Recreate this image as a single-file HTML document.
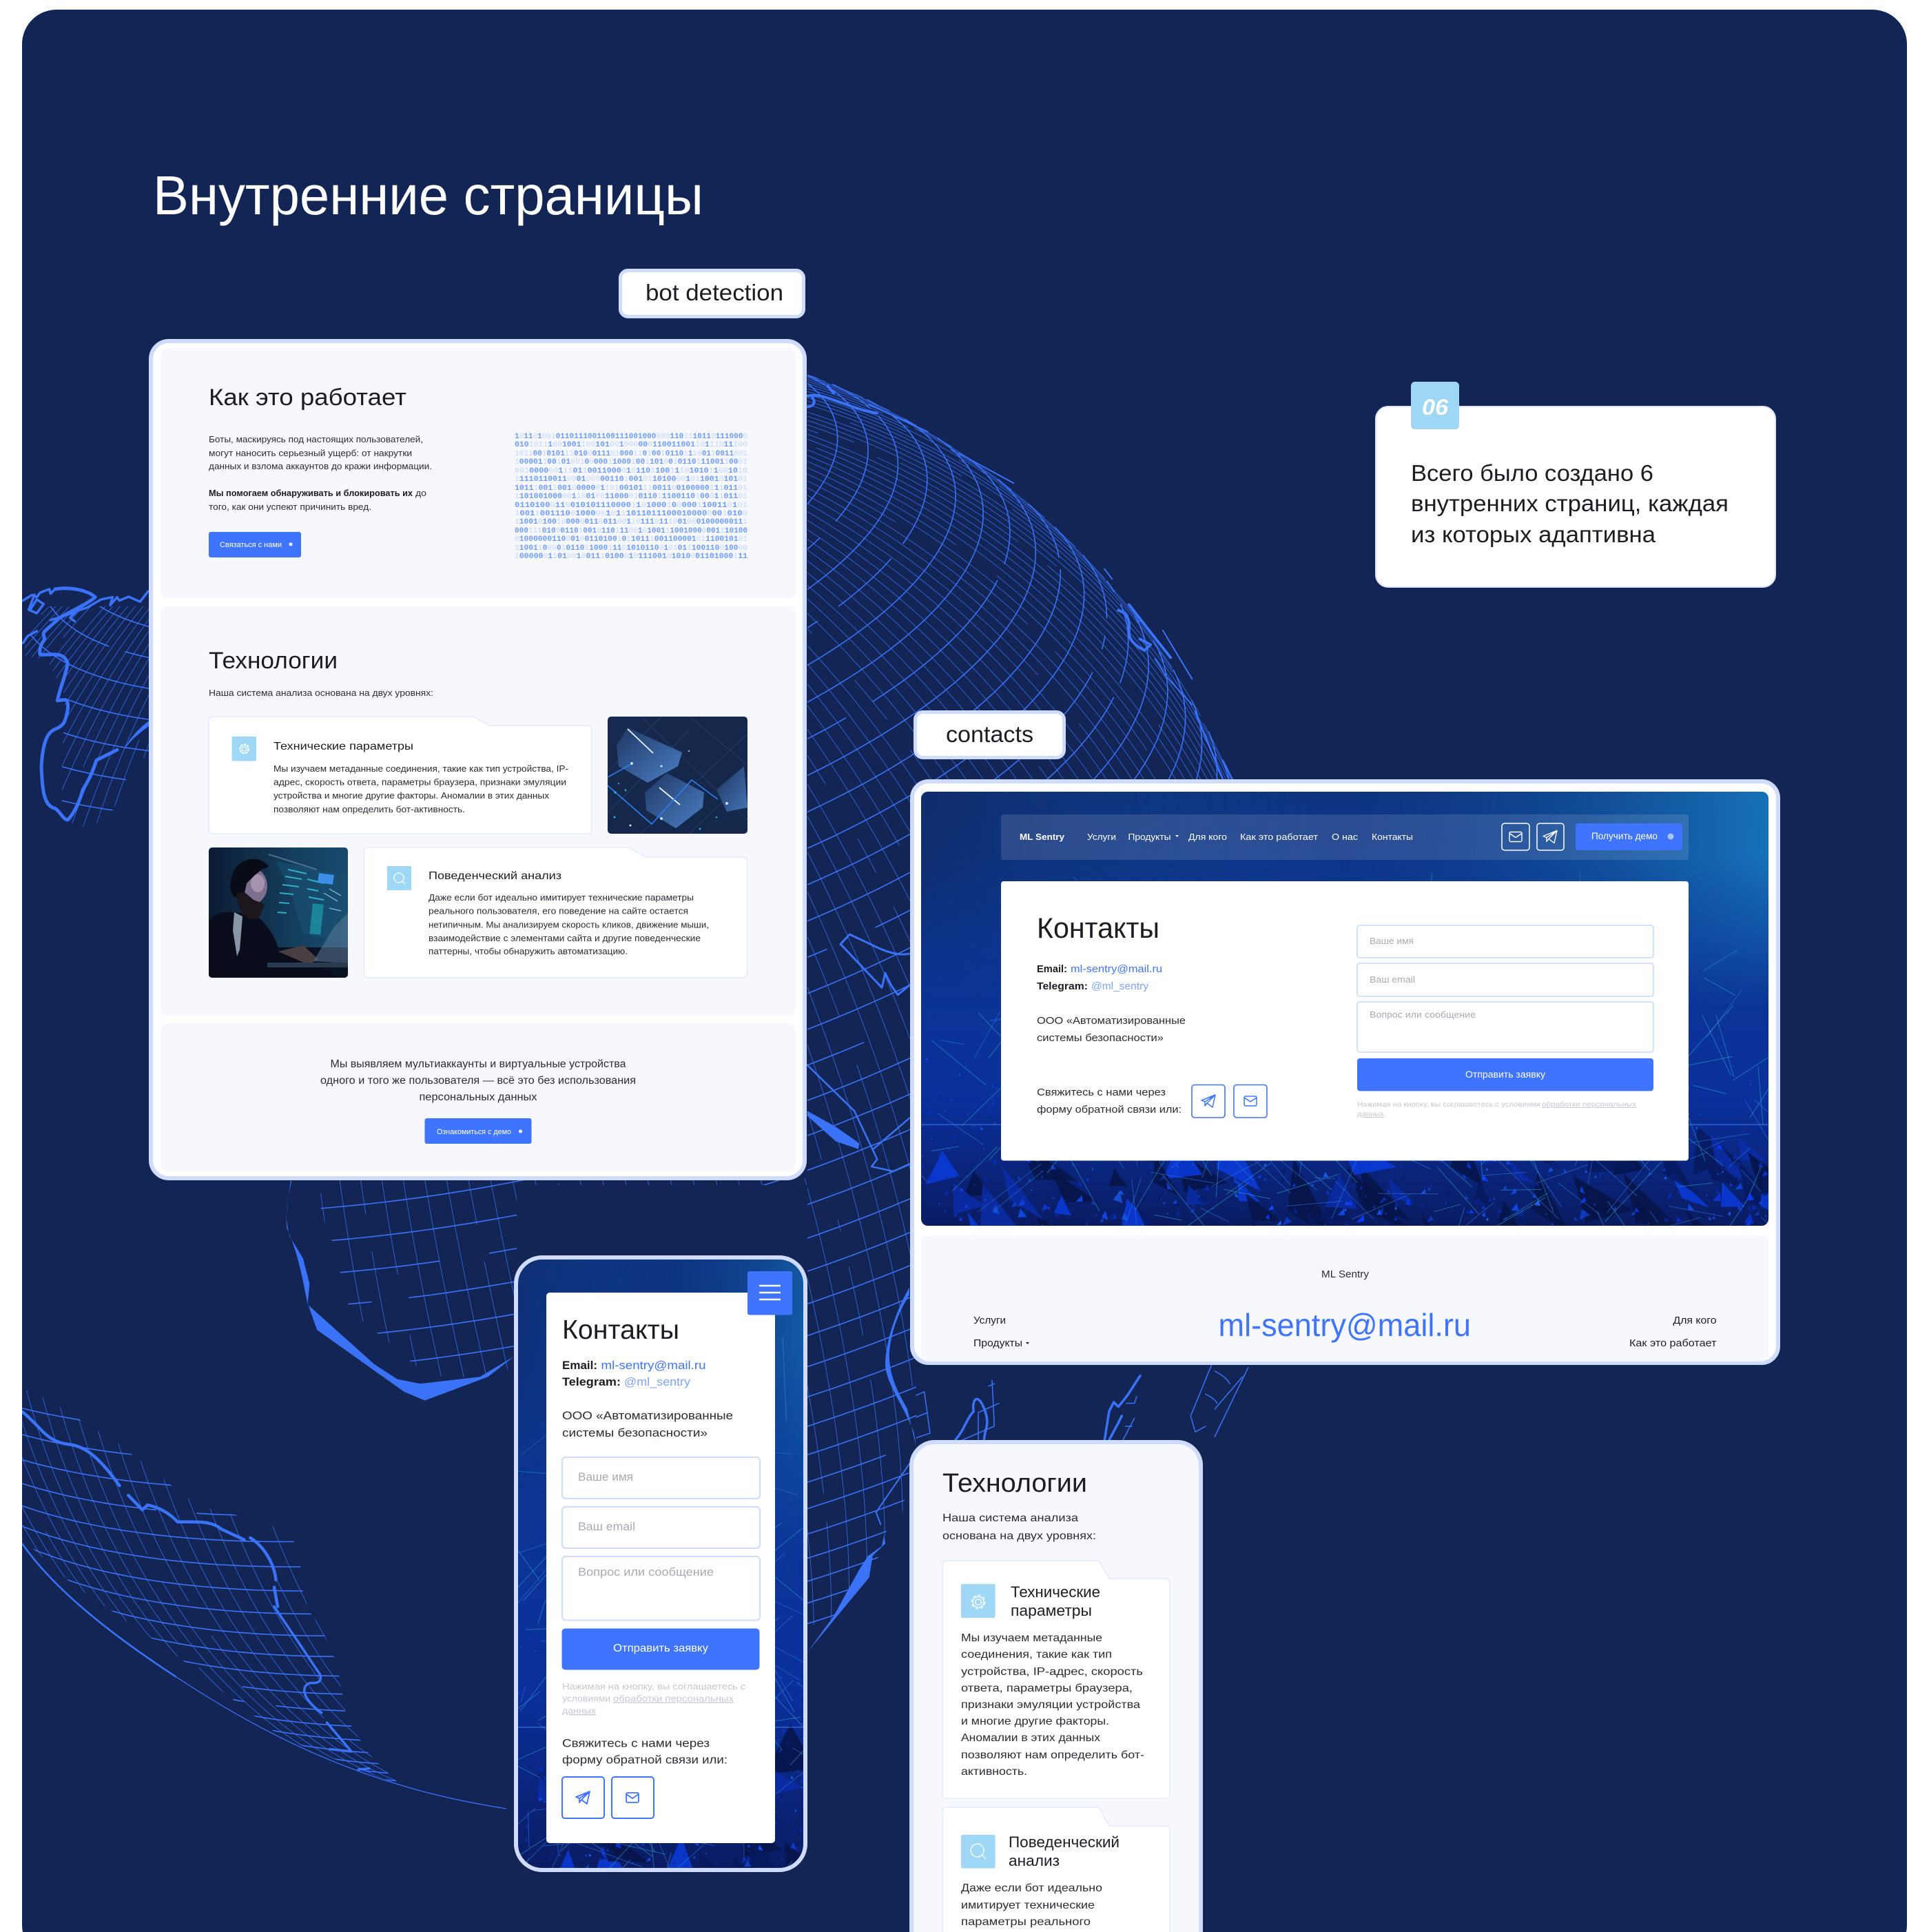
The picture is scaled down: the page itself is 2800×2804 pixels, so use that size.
<!DOCTYPE html>
<html lang="ru"><head><meta charset="utf-8"><title>Внутренние страницы</title>
<style>
html,body{margin:0;padding:0;background:#fff}
svg{display:block}
text{font-family:"Liberation Sans","DejaVu Sans",sans-serif;fill:#2b2d33}
.h{fill:#1c1d22}.b{font-weight:700;fill:#1c1d22}.w{fill:#fff}.bl{fill:#3f74ff}.lb{fill:#7fa4ff}.ph{fill:#a8abb3}.no{fill:#c6c9d1}
.bin text,.bin{font-family:"Liberation Mono",monospace;font-size:11px;fill:#6f9dff;font-weight:700}
.bin tspan{fill:#c3d7ff;font-weight:400}
.c{fill:none;stroke:#3a72f8;stroke-linecap:round;stroke-linejoin:round}
.n{vector-effect:non-scaling-stroke}
</style></head><body>
<svg xmlns="http://www.w3.org/2000/svg" width="2800" height="2804" viewBox="0 0 2800 2804">
<defs>
<g id="mail"><rect x="-9" y="-7" width="18" height="14" rx="2" fill="none"/><path d="M-9-5L0 1 9-5" fill="none"/></g>
<g id="plane"><path d="M-10-1L10-9 6 9-2 3-5 7-5 1ZM-5 1L10-9M-2 3L10-9" fill="none" stroke-linejoin="round"/></g>
<g id="gear"><circle r="3" fill="none"/><circle r="7" fill="none" stroke-dasharray="3.2 2.2"/><circle r="5.6" fill="none"/></g>
<g id="srch"><circle cx="-1" cy="-1" r="7" fill="none"/><path d="M4 4L8 8" fill="none"/></g>
<clipPath id="meshClip">
<polygon points="1172,480 1900,480 1900,1360 1330,1360 1330,2072 1307,2212 1290,2212 1270,2275 1210,2352 1172,2360 1172,1720 750,1720 750,1985 653,2003 600,1980 568,1950 530,1922 503,1890 495,1853 488,1815 473,1780 463,1743 470,1710 1172,1710"/>
<polygon points="60,880 216,880 216,1100 195,1100 176,1150 157,1190 120,1200 90,1190 90,1100 95,1010 70,960 32,950"/>
<polygon transform="translate(0,1700) scale(.5102,.7018)" points="63,450 130,470 330,560 560,690 720,720 820,745 855,790 855,850 880,910 915,945 960,1020 985,1130 1050,1205 1140,1270 1000,1230 800,1170 500,1000 200,850 63,760"/>
</clipPath>
<clipPath id="bgClip"><rect x="32" y="14" width="2736" height="2830" rx="50"/></clipPath>
<clipPath id="heroC"><rect x="1337" y="1149" width="1230" height="630" rx="10"/></clipPath>
<clipPath id="phoneC"><rect x="749" y="1825" width="420" height="889" rx="38"/></clipPath>
<clipPath id="img1"><rect x="882" y="1040" width="203" height="170" rx="5"/></clipPath>
<clipPath id="img2"><rect x="303" y="1230" width="202" height="189" rx="5"/></clipPath>
<linearGradient id="hg" x1="0" y1="0" x2="0" y2="1"><stop offset="0" stop-color="#0f3480"/><stop offset=".35" stop-color="#0c3795"/><stop offset=".72" stop-color="#0a2f9a"/><stop offset="1" stop-color="#0a1c62"/></linearGradient>
<linearGradient id="hr" x1="0" y1="0" x2="1" y2="0"><stop offset="0" stop-color="#12285e" stop-opacity=".55"/><stop offset=".5" stop-color="#0f4a96" stop-opacity="0"/><stop offset="1" stop-color="#1a86c8" stop-opacity=".75"/></linearGradient>
<linearGradient id="hf" x1="0" y1="0" x2="0" y2="1"><stop offset="0" stop-color="#fff"/><stop offset=".15" stop-color="#fff"/><stop offset=".5" stop-color="#000"/></linearGradient>
<mask id="hm" maskContentUnits="objectBoundingBox"><rect width="1" height="1" fill="url(#hf)"/></mask>
<linearGradient id="cube" x1="0" y1="0" x2="1" y2="1"><stop offset="0" stop-color="#1d3763"/><stop offset="1" stop-color="#4d80c6"/></linearGradient>
<linearGradient id="i1bg" x1="0" y1="0" x2="1" y2="1"><stop offset="0" stop-color="#16294e"/><stop offset="1" stop-color="#14284a"/></linearGradient>
<linearGradient id="i2bg" x1="0" y1="0" x2="1" y2="0"><stop offset="0" stop-color="#0c1c34"/><stop offset=".6" stop-color="#143d5c"/><stop offset="1" stop-color="#184a6e"/></linearGradient>
</defs>

<rect x="32" y="14" width="2736" height="2830" rx="50" fill="#132554"/>

<g clip-path="url(#bgClip)">
<g id="mesh" clip-path="url(#meshClip)"></g>

<!-- coast: upper right -->
<g transform="translate(1150,500) scale(.4464,.4149)">
<path class="c n" stroke-width="4" d="M50 180C90 170 130 195 165 205 200 220 240 235 275 240M50 218Q85 212 62 180M115 145L135 170"/>
<path class="c n" stroke-width="2" d="M250 210L440 305M540 380L720 485M1015 785L1040 820M1180 1100L1215 1160 1300 1260M1205 1000L1300 1170"/>
<path class="c n" stroke-width="4" d="M1060 930Q1100 940 1095 1000 1090 1040 1145 1070L1165 1050 1130 1030M1095 910L1160 1000 1230 1095"/>
<path class="c n" stroke-width="2.5" d="M1310 1285L1400 1520M1400 1455L1435 1530"/>
</g>

<!-- coast: right of phone -->
<g transform="translate(1170,1300) scale(.3333,.7018)">
<path class="c n" stroke-width="3" d="M150 100L190 80 280 100C340 115 400 125 450 120M150 100L330 190 345 160 370 185 400 205 450 185"/>
<path class="c n" stroke-width="2.5" d="M5 350L210 445 290 525 450 460M290 525L310 545 285 560 380 570 450 555"/>
<path d="M5 445L130 478 232 512 228 524 130 508 5 455Z" fill="#3a72f8"/>
<path d="M450 810C400 850 345 920 345 970 350 1010 420 1050 470 1110L480 1140 440 1060C390 1020 365 990 362 950 370 890 420 850 450 825Z" fill="#3a72f8"/>
<path class="c n" stroke-width="2" d="M450 1175L305 1275 325 1300"/>
<path d="M340 1322L345 1340 290 1365 275 1410 170 1470 5 1565 120 1490 230 1395 270 1365 330 1345Z" fill="#3a72f8"/>
</g>

<!-- coast: left -->
<g transform="translate(30,830) scale(.3333)">
<path class="c n" stroke-width="5" d="M150 75C200 65 285 75 325 110 290 140 220 170 170 200L105 258C90 275 112 285 100 300 85 320 80 345 85 360 120 365 190 340 205 400 190 470 170 510 160 560 190 560 210 540 205 600 195 650 190 670 150 685 110 700 95 760 90 850 95 950 100 1020 150 1030 170 1040 185 1080 205 1080 235 1050 260 990 270 950 300 900 310 880 330 820L420 775"/>
<path class="c n" stroke-width="3.5" d="M150 75L130 95 125 75 85 90 70 110 50 100 10 125M60 100L35 165 70 180 100 140 70 120 45 160M200 185L290 155 350 120 400 110 390 145 420 110 430 125 470 108 520 130 555 85M10 310L30 280 70 258M130 210L240 175 215 200 235 215"/>
<path d="M450 770C480 720 520 675 558 650V672C520 700 480 730 452 772Z" fill="#3a72f8"/>
</g>

<!-- coast: under first panel -->
<g transform="translate(400,1700) scale(.3333)">
<path fill="#3a72f8" d="M65 42L45 200 60 280 120 380 148 490 140 575 180 690 560 960 650 998 925 895 1040 805 890 895 630 925 530 905 430 840 140 580C120 480 100 360 50 250 40 200 52 120 70 42Z"/>
</g>

<!-- coast and limb: lower left -->
<g transform="translate(0,1700) scale(.5102,.7018)">
<path class="c n" stroke-width="4.5" d="M63 497C120 530 130 560 200 565 250 570 290 600 340 650M365 670L405 700 420 690C450 695 480 705 505 725 560 725 600 722 630 740L695 762M712 758C750 775 780 810 785 845M780 860L790 900"/>
<path class="c n" stroke-width="3.5" d="M780 900L850 975 910 1040Q920 1060 885 1058C860 1060 850 1085 915 1120M930 1140L1000 1200 940 1195M1020 1237L1050 1235"/>
<path class="c n" stroke-width="2.5" d="M63 770C150 860 300 950 500 1045"/>
<path class="c n" stroke-width="1.3" d="M500 1045C700 1140 1000 1270 1440 1318"/>
</g>

<!-- coast: between contacts and tech -->
<g transform="translate(1330,1975) scale(.3333)">
<path class="c n" stroke-width="3.5" d="M170 345C210 300 220 250 250 220 240 170 270 130 300 220 320 280 300 290 295 345M820 345L840 220 860 180 880 200 920 150 975 65M840 345L880 270 895 240"/>
<path class="c n" stroke-width="1.5" d="M1285 20L1195 240 1215 310 1260 285M1300 45Q1350 70 1365 100M1260 145Q1300 165 1310 185M1300 210L1420 70M1445 30L1300 330M0 150L35 135 60 315M0 245L50 225M0 335L60 315M200 345L340 285 330 85M270 225V345M270 225L360 185M315 110L340 100M915 185H950L960 155M910 285H940M950 250L900 345"/>
</g>
</g>

<!-- title -->
<text x="222" y="311" font-size="80" textLength="799" class="w">Внутренние страницы</text>

<!-- bot detection label -->
<rect x="900.5" y="392.5" width="266" height="67" rx="11" fill="#fff" stroke="#cfdcff" stroke-width="5"/>
<text x="937" y="436" font-size="33" textLength="200" class="h">bot detection</text>

<!-- panel 1 -->
<rect x="219" y="495" width="949" height="1215" rx="26" fill="#fff" stroke="#cfdcff" stroke-width="6"/>
<rect x="233" y="505" width="922" height="364" rx="12" fill="#f6f8fd"/>
<rect x="233" y="880" width="922" height="594" rx="10" fill="#f6f8fd"/>
<rect x="233" y="1485" width="922" height="215" rx="12" fill="#f6f8fd"/>

<text x="303" y="588" font-size="34" textLength="287" class="h">Как это работает</text>
<g font-size="13">
<text x="303" y="642" textLength="311">Боты, маскируясь под настоящих пользователей,</text>
<text x="303" y="662" textLength="295">могут наносить серьезный ущерб: от накрутки</text>
<text x="303" y="681" textLength="324">данных и взлома аккаунтов до кражи информации.</text>
<text x="303" y="720" textLength="296" class="b">Мы помогаем обнаруживать и блокировать их</text>
<text x="603" y="720" textLength="16">до</text>
<text x="303" y="740" textLength="236">того, как они успеют причинить вред.</text>
</g>
<rect x="303" y="772" width="134" height="37" rx="3" fill="#3f74ff"/>
<text x="319" y="794" font-size="11" textLength="90" class="w">Связаться с нами</text>
<circle cx="422" cy="790" r="2.5" fill="#fff"/>

<g class="bin">
<text x="747" y="636" textLength="338">1<tspan>0</tspan>11<tspan>0</tspan>1<tspan>001</tspan>0110111001100111001000<tspan>000</tspan>110<tspan>11</tspan>1011<tspan>0</tspan>111000<tspan>0</tspan></text>
<text x="747" y="648" textLength="338">010<tspan>1011</tspan>1<tspan>00</tspan>1001<tspan>100</tspan>101<tspan>00</tspan>1<tspan>000</tspan>00<tspan>0</tspan>110011001<tspan>10</tspan>1<tspan>110</tspan>11<tspan>100</tspan></text>
<text x="747" y="661" textLength="338"><tspan>1011</tspan>00<tspan>1</tspan>0101<tspan>11</tspan>010<tspan>0</tspan>0111<tspan>01</tspan>000<tspan>11</tspan>0<tspan>1</tspan>00<tspan>1</tspan>0110<tspan>1</tspan>1<tspan>10</tspan>01<tspan>1</tspan>0011<tspan>001</tspan></text>
<text x="747" y="673" textLength="338"><tspan>1</tspan>00001<tspan>1</tspan>00<tspan>1</tspan>01<tspan>001</tspan>0<tspan>0</tspan>000<tspan>1</tspan>1000<tspan>1</tspan>00<tspan>1</tspan>101<tspan>0</tspan>0<tspan>1</tspan>0110<tspan>1</tspan>11001<tspan>1</tspan>00<tspan>01</tspan></text>
<text x="747" y="686" textLength="338"><tspan>001</tspan>0000<tspan>00</tspan>1<tspan>11</tspan>01<tspan>1</tspan>0011000<tspan>0</tspan>1<tspan>0</tspan>110<tspan>1</tspan>100<tspan>1</tspan>1<tspan>10</tspan>1010<tspan>1</tspan>1<tspan>00</tspan>10<tspan>10</tspan></text>
<text x="747" y="698" textLength="338"><tspan>1</tspan>1110110011<tspan>00</tspan>01<tspan>000</tspan>00110<tspan>1</tspan>001<tspan>01</tspan>10100<tspan>00</tspan>1<tspan>01</tspan>1001<tspan>0</tspan>101<tspan>01</tspan></text>
<text x="747" y="711" textLength="338">1011<tspan>1</tspan>001<tspan>1</tspan>001<tspan>0</tspan>0000<tspan>0</tspan>1<tspan>101</tspan>00101<tspan>11</tspan>0011<tspan>0</tspan>0100000<tspan>1</tspan>1<tspan>1</tspan>011<tspan>01</tspan></text>
<text x="747" y="723" textLength="338"><tspan>1</tspan>101001000<tspan>00</tspan>1<tspan>10</tspan>01<tspan>00</tspan>11000<tspan>01</tspan>0110<tspan>1</tspan>1100110<tspan>1</tspan>00<tspan>0</tspan>1<tspan>1</tspan>011<tspan>01</tspan></text>
<text x="747" y="736" textLength="338">0110100<tspan>0</tspan>11<tspan>0</tspan>010101110000<tspan>1</tspan>1<tspan>0</tspan>1000<tspan>1</tspan>0<tspan>0</tspan>000<tspan>1</tspan>10011<tspan>0</tspan>1<tspan>01</tspan></text>
<text x="747" y="748" textLength="338"><tspan>1</tspan>001<tspan>1</tspan>001110<tspan>0</tspan>1000<tspan>00</tspan>1<tspan>0</tspan>1<tspan>1</tspan>1011011100010000<tspan>0</tspan>00<tspan>1</tspan>010<tspan>0</tspan></text>
<text x="747" y="760" textLength="338"><tspan>1</tspan>1001<tspan>0</tspan>100<tspan>10</tspan>000<tspan>0</tspan>011<tspan>0</tspan>011<tspan>00</tspan>1<tspan>10</tspan>111<tspan>0</tspan>11<tspan>10</tspan>01<tspan>00</tspan>0100000011<tspan>1</tspan></text>
<text x="747" y="773" textLength="338">000<tspan>111</tspan>010<tspan>0</tspan>0110<tspan>1</tspan>001<tspan>0</tspan>110<tspan>1</tspan>11<tspan>00</tspan>1<tspan>0</tspan>1001<tspan>1</tspan>1001000<tspan>0</tspan>001<tspan>1</tspan>10100</text>
<text x="747" y="785" textLength="338"><tspan>0</tspan>1000000110<tspan>0</tspan>01<tspan>0</tspan>0110100<tspan>1</tspan>0<tspan>1</tspan>1011<tspan>1</tspan>001100001<tspan>01</tspan>1100101<tspan>01</tspan></text>
<text x="747" y="798" textLength="338"><tspan>1</tspan>1001<tspan>1</tspan>0<tspan>00</tspan>0<tspan>1</tspan>0110<tspan>1</tspan>1000<tspan>1</tspan>11<tspan>0</tspan>1010110<tspan>0</tspan>1<tspan>01</tspan>01<tspan>1</tspan>100110<tspan>0</tspan>100<tspan>00</tspan></text>
<text x="747" y="810" textLength="338"><tspan>1</tspan>00000<tspan>0</tspan>1<tspan>1</tspan>01<tspan>00</tspan>1<tspan>0</tspan>011<tspan>1</tspan>0100<tspan>0</tspan>1<tspan>0</tspan>111001<tspan>0</tspan>1010<tspan>0</tspan>01101000<tspan>1</tspan>11</text>
</g>

<text x="303" y="970" font-size="34" textLength="187" class="h">Технологии</text>
<text x="303" y="1010" font-size="13" textLength="326">Наша система анализа основана на двух уровнях:</text>

<path d="M309 1040H688L710 1053H853Q859 1053 859 1059V1204Q859 1210 853 1210H309Q303 1210 303 1204V1046Q303 1040 309 1040Z" fill="#fff" stroke="#e3eafd" stroke-width="1.5"/>
<rect x="336.5" y="1069" width="35.5" height="35.5" rx="2" fill="#9fd8f7"/>
<use href="#gear" x="354.5" y="1087" stroke="#fff" stroke-width="1.2"/>
<text x="397" y="1088" font-size="16" textLength="203" class="h">Технические параметры</text>
<g font-size="12.5" style="fill:#444">
<text x="397" y="1120" textLength="428">Мы изучаем метаданные соединения, такие как тип устройства, IP-</text>
<text x="397" y="1139.5" textLength="425">адрес, скорость ответа, параметры браузера, признаки эмуляции</text>
<text x="397" y="1159" textLength="400">устройства и многие другие факторы. Аномалии в этих данных</text>
<text x="397" y="1179" textLength="278">позволяют нам определить бот-активность.</text>
</g>

<!-- image 1 -->
<g clip-path="url(#img1)">
<rect x="882" y="1040" width="203" height="170" fill="url(#i1bg)"/>
<path d="M882 1180L1000 1060M930 1210L1085 1065M882 1120L960 1040M1000 1210L1085 1130M1000 1040L1085 1110M930 1040L1085 1190" stroke="#2a4674" stroke-width=".7" fill="none"/>
<polygon points="911,1056 990,1092 984,1112 940,1136 898,1112 895,1082" fill="url(#cube)"/>
<polygon points="968,1122 1022,1150 1020,1172 981,1202 938,1176 936,1150" fill="url(#cube)"/>
<polygon points="1080,1112 1085,1172 1055,1178 1040,1146" fill="url(#cube)" opacity=".85"/>
<path d="M911 1058L948 1093M957 1143L987 1168" stroke="#e8f2ff" stroke-width="1.8"/>
<path d="M882 1128L918 1108M882 1140L946 1196 1004 1132 1042 1160" stroke="#2d7ff0" stroke-width="1.6" fill="none"/>
<g fill="#bfe4ff"><circle cx="917" cy="1108" r="2"/><circle cx="960" cy="1112" r="1.6"/><circle cx="1055" cy="1166" r="2"/><circle cx="960" cy="1188" r="2"/><circle cx="915" cy="1198" r="1.5"/><circle cx="1000" cy="1090" r="1"/></g>
<g fill="#28a6d8"><circle cx="908" cy="1147" r="1.5"/><circle cx="893" cy="1150" r="1.8"/><circle cx="898" cy="1137" r="1.2"/><circle cx="1016" cy="1203" r="1.5"/><circle cx="1040" cy="1186" r="1.3"/><circle cx="892" cy="1186" r="1.6"/></g>
</g>

<!-- image 2 -->
<g clip-path="url(#img2)">
<rect x="303" y="1230" width="202" height="189" fill="url(#i2bg)"/>
<rect x="303" y="1375" width="202" height="44" fill="#070b16" opacity=".85"/>
<polygon points="400,1250 505,1270 505,1370 440,1355 420,1290" fill="#1a5274" opacity=".55"/>
<g stroke="#39c0d8" stroke-width="2" opacity=".85">
<path d="M418 1262L445 1268M414 1272L438 1276M410 1284L434 1287M406 1296L426 1298M405 1310L420 1311M403 1324L416 1325"/>
<path d="M446 1276L470 1282M446 1290L462 1293M448 1302L470 1306M452 1334L462 1340"/>
</g>
<rect x="462" y="1268" width="22" height="14" fill="#3d8fe8" transform="rotate(8 470 1275)"/>
<rect x="452" y="1312" width="16" height="44" fill="#1d8b9e" opacity=".9" transform="rotate(6 460 1330)"/>
<path d="M478 1290L495 1300M470 1296L490 1308M478 1318L495 1322" stroke="#70b0c8" stroke-width="1.5"/>
<path d="M390 1240L460 1262" stroke="#6d90b0" stroke-width="2" opacity=".6"/>
<path d="M303 1335C320 1318 345 1322 378 1334 395 1350 404 1370 404 1381L461 1397 490 1419H303Z" fill="#0a0e1c"/>
<path d="M340 1324L352 1330 348 1378 344 1388 338 1350Z" fill="#8896a6"/>
<ellipse cx="364" cy="1286" rx="24" ry="27" fill="#7d6f8e"/>
<ellipse cx="374" cy="1282" rx="10" ry="13" fill="#a594ae"/>
<path d="M336 1275C340 1245 378 1238 390 1258L380 1262 370 1270 358 1282 354 1300 340 1302C332 1292 334 1282 336 1275Z" fill="#080c16"/>
<path d="M343 1298C345 1322 358 1340 376 1332L384 1312 368 1306 354 1294Z" fill="#1e181e"/>
<path d="M404 1381L440 1372 462 1392 448 1400Z" fill="#4a3f42"/>
<path d="M455 1395L485 1345 505 1325 505 1398Z" fill="#5b7a98" opacity=".55"/>
<rect x="388" y="1397" width="117" height="7" fill="#2a3a4e"/>
</g>

<path d="M534.5 1230H913L937 1244H1078.5Q1084.5 1244 1084.5 1250V1413Q1084.5 1419 1078.5 1419H534.5Q528.5 1419 528.5 1413V1236Q528.5 1230 534.5 1230Z" fill="#fff" stroke="#e3eafd" stroke-width="1.5"/>
<rect x="562" y="1257" width="35" height="35" rx="1" fill="#9fd8f7"/>
<use href="#srch" x="580" y="1275" stroke="#fff" stroke-width="1.3"/>
<text x="622" y="1276" font-size="16" textLength="193" class="h">Поведенческий анализ</text>
<g font-size="12.5" style="fill:#444">
<text x="622" y="1307" textLength="385">Даже если бот идеально имитирует технические параметры</text>
<text x="622" y="1326.5" textLength="377">реального пользователя, его поведение на сайте остается</text>
<text x="622" y="1346.5" textLength="407">нетипичным. Мы анализируем скорость кликов, движение мыши,</text>
<text x="622" y="1366" textLength="395">взаимодействие с элементами сайта и другие поведенческие</text>
<text x="622" y="1385" textLength="289">паттерны, чтобы обнаружить автоматизацию.</text>
</g>

<g font-size="15.5" text-anchor="middle">
<text x="694" y="1549" textLength="429">Мы выявляем мультиаккаунты и виртуальные устройства</text>
<text x="694" y="1573" textLength="458">одного и того же пользователя — всё это без использования</text>
<text x="694" y="1597" textLength="171">персональных данных</text>
</g>
<rect x="616.5" y="1623" width="155" height="37" rx="3" fill="#3f74ff"/>
<text x="634" y="1646" font-size="11" textLength="108" class="w">Ознакомиться с демо</text>
<circle cx="755.5" cy="1642" r="2.5" fill="#fff"/>

<!-- callout -->
<rect x="1997" y="590" width="580" height="262" rx="18" fill="#fff" stroke="#dfe6fb" stroke-width="2"/>
<rect x="2048" y="554" width="70" height="69" rx="6" fill="#9fd8f7"/>
<text x="2064" y="602" font-size="32" font-weight="700" font-style="italic" textLength="38" class="w">06</text>
<g font-size="33">
<text x="2048" y="698" textLength="352" class="h">Всего было создано 6</text>
<text x="2048" y="742" textLength="461" class="h">внутренних страниц, каждая</text>
<text x="2048" y="787" textLength="355" class="h">из которых адаптивна</text>
</g>

<!-- contacts label -->
<rect x="1328.5" y="1033.5" width="216" height="66" rx="11" fill="#fff" stroke="#cfdcff" stroke-width="5"/>
<text x="1373" y="1077" font-size="33" textLength="127" class="h">contacts</text>

<!-- contacts panel -->
<rect x="1324" y="1134" width="1257" height="844" rx="24" fill="#fff" stroke="#cfdcff" stroke-width="6"/>
<g clip-path="url(#heroC)">
<rect x="1337" y="1149" width="1230" height="630" fill="url(#hg)"/>
<g id="hero1"></g>
<rect x="1337" y="1149" width="1230" height="630" fill="url(#hr)" mask="url(#hm)"/>
</g>
<rect x="1337" y="1793" width="1230" height="183" rx="10" fill="#f6f8fd"/>

<rect x="1453" y="1182" width="998" height="66" rx="3" fill="#fff" fill-opacity=".12"/>
<g font-size="13">
<text x="1480" y="1219" font-weight="700" textLength="65" class="w">ML Sentry</text>
<text x="1578" y="1219" textLength="42" class="w">Услуги</text>
<text x="1637.5" y="1219" textLength="62" class="w">Продукты</text>
<text x="1725" y="1219" textLength="56" class="w">Для кого</text>
<text x="1800" y="1219" textLength="113" class="w">Как это работает</text>
<text x="1933" y="1219" textLength="38" class="w">О нас</text>
<text x="1991" y="1219" textLength="60" class="w">Контакты</text>
</g>
<path d="M1706 1212h5l-2.5 3z" fill="#fff"/>
<rect x="2180" y="1195" width="40" height="39" rx="4" fill="none" stroke="#fff" stroke-width="1.5"/>
<use href="#mail" x="2200" y="1214.5" stroke="#fff" stroke-width="1.4"/>
<rect x="2231" y="1195" width="39" height="39" rx="4" fill="none" stroke="#fff" stroke-width="1.5"/>
<use href="#plane" x="2250" y="1214.5" stroke="#fff" stroke-width="1.4"/>
<rect x="2287" y="1195" width="155" height="39" rx="4" fill="#3f74ff"/>
<text x="2310" y="1218" font-size="13.5" textLength="96" class="w">Получить демо</text>
<circle cx="2425" cy="1214" r="4.5" fill="#a9c3ff"/>

<rect x="1453" y="1279" width="998" height="405.5" rx="4" fill="#fff"/>
<text x="1505" y="1361" font-size="42" textLength="178" class="h">Контакты</text>
<g font-size="15">
<text x="1505" y="1411" textLength="44" class="b">Email:</text><text x="1554" y="1411" textLength="133" class="bl">ml-sentry@mail.ru</text>
<text x="1505" y="1436" textLength="74" class="b">Telegram:</text><text x="1584" y="1436" textLength="83" class="lb">@ml_sentry</text>
<text x="1505" y="1486" textLength="216">ООО «Автоматизированные</text>
<text x="1505" y="1511" textLength="184">системы безопасности»</text>
<text x="1505" y="1590" textLength="187">Свяжитесь с нами через</text>
<text x="1505" y="1615" textLength="210">форму обратной связи или:</text>
</g>
<rect x="1730" y="1574.5" width="48" height="47.5" rx="4" fill="none" stroke="#3f74ff" stroke-width="1.6"/>
<use href="#plane" x="1754" y="1598" stroke="#3f74ff" stroke-width="1.5"/>
<rect x="1791" y="1574.5" width="48" height="47.5" rx="4" fill="none" stroke="#3f74ff" stroke-width="1.6"/>
<use href="#mail" x="1815" y="1598" stroke="#3f74ff" stroke-width="1.5"/>
<g fill="#fff" stroke="#cfdcff" stroke-width="1.8">
<rect x="1970" y="1343" width="430" height="47" rx="4"/>
<rect x="1970" y="1398" width="430" height="48" rx="4"/>
<rect x="1970" y="1454" width="430" height="73" rx="4"/>
</g>
<g font-size="13" class="ph">
<text x="1988" y="1370" textLength="64" class="ph">Ваше имя</text>
<text x="1988" y="1426" textLength="66" class="ph">Ваш email</text>
<text x="1988" y="1477" textLength="154" class="ph">Вопрос или сообщение</text>
</g>
<rect x="1970" y="1536" width="430" height="47.5" rx="4" fill="#3f74ff"/>
<text x="2127" y="1564" font-size="13.5" textLength="116" class="w">Отправить заявку</text>
<text x="1970" y="1606" font-size="10.5" textLength="266" class="no">Нажимая на кнопку, вы соглашаетесь с условиями</text>
<text x="2238" y="1606" font-size="10.5" textLength="137" class="no" text-decoration="underline">обработки персональных</text>
<text x="1970" y="1620" font-size="10.5" textLength="39" class="no" text-decoration="underline">данных</text>

<text x="1918" y="1854" font-size="15" textLength="69">ML Sentry</text>
<g font-size="15">
<text x="1413" y="1921" textLength="47" class="h">Услуги</text>
<text x="1413" y="1954" textLength="71" class="h">Продукты</text>
<text x="2428.5" y="1921" textLength="63" class="h">Для кого</text>
<text x="2365" y="1954" textLength="126.5" class="h">Как это работает</text>
</g>
<path d="M1489 1948h5l-2.5 3z" fill="#222"/>
<text x="1768.5" y="1939" font-size="46" textLength="366.5" class="bl">ml-sentry@mail.ru</text>

<!-- phone -->
<g clip-path="url(#phoneC)">
<rect x="749" y="1825" width="420" height="889" fill="url(#hg)"/>
<g id="hero2"></g>
<rect x="749" y="1825" width="420" height="889" fill="url(#hr)" opacity=".6" mask="url(#hm)"/>
</g>
<rect x="749" y="1825" width="420" height="889" rx="38" fill="none" stroke="#cfdcff" stroke-width="6"/>
<rect x="793" y="1876" width="332" height="799" rx="5" fill="#fff"/>
<rect x="1085" y="1845" width="65" height="63.5" rx="3" fill="#3f74ff"/>
<path d="M1102 1866H1133M1102 1876H1133M1102 1886H1133" stroke="#fff" stroke-width="2.6"/>
<text x="816" y="1943" font-size="39" textLength="170" class="h">Контакты</text>
<g font-size="17">
<text x="816" y="1987" textLength="51" class="b">Email:</text><text x="872.5" y="1987" textLength="152" class="bl">ml-sentry@mail.ru</text>
<text x="816" y="2011" textLength="85" class="b">Telegram:</text><text x="906" y="2011" textLength="96" class="lb">@ml_sentry</text>
<text x="816" y="2060" textLength="248">ООО «Автоматизированные</text>
<text x="816" y="2085" textLength="211">системы безопасности»</text>
</g>
<g fill="#fff" stroke="#cfdcff" stroke-width="2">
<rect x="816" y="2115" width="287" height="60" rx="5"/>
<rect x="816" y="2187" width="287" height="60" rx="5"/>
<rect x="816" y="2259" width="287" height="92.5" rx="5"/>
</g>
<g font-size="17">
<text x="839" y="2149" textLength="80" class="ph">Ваше имя</text>
<text x="839" y="2221" textLength="83" class="ph">Ваш email</text>
<text x="839" y="2287" textLength="197" class="ph">Вопрос или сообщение</text>
</g>
<rect x="815.5" y="2363.5" width="287" height="60" rx="5" fill="#3f74ff"/>
<text x="890" y="2397" font-size="16" textLength="138" class="w">Отправить заявку</text>
<g font-size="13">
<text x="816" y="2452" textLength="266" class="no">Нажимая на кнопку, вы соглашаетесь с</text>
<text x="816" y="2469.5" textLength="70" class="no">условиями</text>
<text x="890" y="2469.5" textLength="175" class="no" text-decoration="underline">обработки персональных</text>
<text x="816" y="2487" textLength="49" class="no" text-decoration="underline">данных</text>
</g>
<g font-size="17">
<text x="816" y="2535.5" textLength="214">Свяжитесь с нами через</text>
<text x="816" y="2559.5" textLength="240">форму обратной связи или:</text>
</g>
<rect x="816" y="2579" width="61" height="60" rx="4" fill="none" stroke="#3f74ff" stroke-width="2"/>
<use href="#plane" x="846" y="2609" stroke="#3f74ff" stroke-width="1.8"/>
<rect x="888" y="2579" width="61" height="60" rx="4" fill="none" stroke="#3f74ff" stroke-width="2"/>
<use href="#mail" x="918" y="2609" stroke="#3f74ff" stroke-width="1.8"/>

<!-- tech mobile -->
<rect x="1323" y="2093" width="420" height="760" rx="34" fill="#f6f8fd" stroke="#cfdcff" stroke-width="6"/>
<text x="1368" y="2165" font-size="38" textLength="210" class="h">Технологии</text>
<g font-size="16">
<text x="1368" y="2208" textLength="197">Наша система анализа</text>
<text x="1368" y="2234" textLength="223">основана на двух уровнях:</text>
</g>
<path d="M1374 2265H1595L1610 2291H1692Q1698 2291 1698 2297V2604Q1698 2610 1692 2610H1374Q1368 2610 1368 2604V2271Q1368 2265 1374 2265Z" fill="#fff" stroke="#e3eafd" stroke-width="1.5"/>
<rect x="1395" y="2299" width="49.6" height="49" rx="2" fill="#9fd8f7"/>
<use href="#gear" transform="translate(1420,2325) scale(1.4)" stroke="#fff" stroke-width="1"/>
<g font-size="22">
<text x="1467" y="2318" textLength="130" class="h">Технические</text>
<text x="1467" y="2345" textLength="118" class="h">параметры</text>
</g>
<g font-size="16" style="fill:#444">
<text x="1395" y="2382" textLength="205">Мы изучаем метаданные</text>
<text x="1395" y="2406" textLength="219">соединения, такие как тип</text>
<text x="1395" y="2431" textLength="264">устройства, IP-адрес, скорость</text>
<text x="1395" y="2455" textLength="249">ответа, параметры браузера,</text>
<text x="1395" y="2479" textLength="260">признаки эмуляции устройства</text>
<text x="1395" y="2503" textLength="215">и многие другие факторы.</text>
<text x="1395" y="2527" textLength="202">Аномалии в этих данных</text>
<text x="1395" y="2552" textLength="266">позволяют нам определить бот-</text>
<text x="1395" y="2576" textLength="96">активность.</text>
</g>
<path d="M1374 2623H1595L1610 2650H1692Q1698 2650 1698 2656V2860H1368V2629Q1368 2623 1374 2623Z" fill="#fff" stroke="#e3eafd" stroke-width="1.5"/>
<rect x="1395" y="2663" width="49.6" height="48.6" rx="2" fill="#9fd8f7"/>
<use href="#srch" transform="translate(1420,2687) scale(1.35)" stroke="#fff" stroke-width="1"/>
<g font-size="22">
<text x="1464" y="2681" textLength="161" class="h">Поведенческий</text>
<text x="1464" y="2708" textLength="74" class="h">анализ</text>
</g>
<g font-size="16" style="fill:#444">
<text x="1395" y="2745" textLength="205">Даже если бот идеально</text>
<text x="1395" y="2770" textLength="194">имитирует технические</text>
<text x="1395" y="2794" textLength="188">параметры реального</text>
</g>
</svg>
<script>
(function(){
var seed=12345;function r(){seed=(seed*1664525+1013904223)%4294967296;return seed/4294967296;}
var C=[800,1548],R=1072,T=22*Math.PI/180,u=[-.22,-.975],v=[.975,-.22];
var rad=Math.PI/180;
function P(la,lo){var cp=Math.cos(la*rad),sp=Math.sin(la*rad),cl=Math.cos(lo*rad),sl=Math.sin(lo*rad);
 var z=cp*cl*Math.cos(T)+sp*Math.sin(T);
 var a=cp*sl,b=-cp*cl*Math.sin(T)+sp*Math.cos(T);
 return [C[0]+R*(a*v[0]+b*u[0]),C[1]+R*(a*v[1]+b*u[1]),z];}
function build(isPar){var d='';var step=isPar?2.6:1.75;
 for(var k=isPar?-85:-180;k<(isPar?86:180);k+=step){
  var on=false,gap=0;
  for(var s=isPar?-180:-88;s<=(isPar?180:88);s+=1){
   var p=isPar?P(k,s):P(s,k);
   var vis=p[2]>0.02;
   if(gap>0){gap--;vis=false;}else if(r()<(isPar?.012:.016)){gap=2+Math.floor(r()*3);}
   if(vis){d+=(on?'L':'M')+p[0].toFixed(1)+' '+p[1].toFixed(1);on=true;}else on=false;
  }}
 return d;}
document.getElementById('mesh').innerHTML=
 '<path d="'+build(true)+'" fill="none" stroke="#3a72f8" stroke-width="1.6"/>'+
 '<path d="'+build(false)+'" fill="none" stroke="#3a72f8" stroke-width=".9" opacity=".85"/>';
function hero(id,x,y,w,h,n,ln,big){var s='';
 var cols=['#0b3cff','#1450ff','#0a2fc8','#0d2a9e','#061b6b','#1a66ff','#0f49e0'];
 for(var i=0;i<big;i++){var px=x+r()*w,py=y+h*(.82+.22*r()),sz=25+r()*50;
  s+='<polygon points="'+px+','+py+' '+(px+sz*(r()-.5))+','+(py-sz)+' '+(px+sz)+','+(py+sz*(r()-.3))+'" fill="'+['#071a5e','#061447','#0a2da8','#0b3bdc','#061447'][i%5]+'" opacity=".85"/>';}
 for(i=0;i<n;i++){var fr=Math.pow(r(),.7),px=x+r()*w,py=y+h*(.3+.7*fr),sz=1.5+r()*r()*16*fr*fr*fr;
  s+='<polygon points="'+px.toFixed(1)+','+py.toFixed(1)+' '+(px+sz).toFixed(1)+','+(py+sz*(r()-.5)).toFixed(1)+' '+(px+sz*r()).toFixed(1)+','+(py-sz).toFixed(1)+'" fill="'+cols[i%7]+'" opacity="'+(.55+.45*r()).toFixed(2)+'"/>';}
 for(i=0;i<ln;i++){var a=x+r()*w,b=y+h*(.25+.75*Math.pow(r(),.6)),c=a+(r()-.5)*h*.3,e=b+(r()-.5)*h*.3;
  s+='<path d="M'+a.toFixed(1)+' '+b.toFixed(1)+'L'+c.toFixed(1)+' '+e.toFixed(1)+'" stroke="'+(i%2?'#2aa8d8':'#2f7dea')+'" stroke-width="1" opacity=".55"/>';}
 var gy=y+h*.767;
 s+='<rect x="'+x+'" y="'+(gy-1)+'" width="'+w+'" height="2" fill="#4a8cff" opacity=".45"/>';
 document.getElementById(id).innerHTML=s;}
hero('hero1',1337,1149,1230,630,1100,240,60);
hero('hero2',749,1825,420,889,520,130,22);
var t=document.querySelectorAll('text[textLength]');
for(var i=0;i<t.length;i++)t[i].setAttribute('lengthAdjust','spacingAndGlyphs');
})();
</script>
</body></html>
